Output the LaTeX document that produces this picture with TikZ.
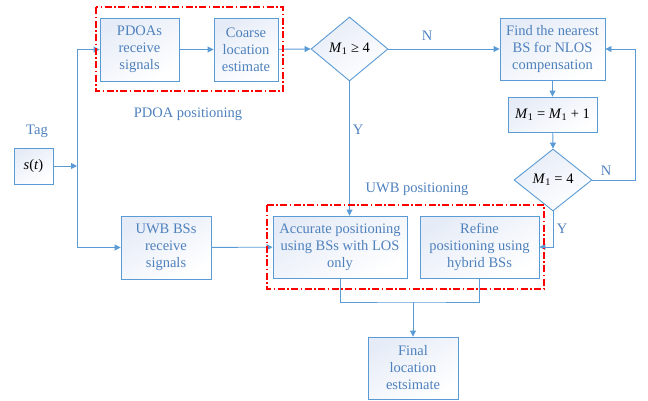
\documentclass[tikz,border=0pt]{standalone}
\usepackage{fontspec}
\setmainfont{Liberation Serif}
\usetikzlibrary{arrows.meta,shapes.geometric,calc}
\definecolor{lineblue}{HTML}{5B9BD5}
\definecolor{textblue}{HTML}{4F81BD}
\definecolor{fillblue}{HTML}{E6ECF7}
\newcommand\Mone{\textit{M}\textsubscript{1}}
\begin{document}
\begin{tikzpicture}[x=1pt,y=-1pt,
  font=\fontsize{14.5}{17}\selectfont,
  boxnode/.style={draw=lineblue,line width=0.9pt,text=textblue,align=center,inner sep=0pt,
     top color=fillblue,bottom color=white,shading angle=30},
  decnode/.style={diamond,draw=lineblue,line width=0.9pt,inner sep=0pt,
     top color=fillblue,bottom color=white,shading angle=30},
  conn/.style={draw=lineblue,line width=0.9pt},
  arr/.style={conn,-{Triangle[length=6pt,width=6pt]}},
  lbl/.style={text=textblue,inner sep=0pt},
  grp/.style={red,line width=1.1pt,line cap=butt,dash pattern=on 7pt off 2.5pt on 1.5pt off 2.5pt}]
\useasboundingbox (0,0) rectangle (648,400);
% nodes
\node[boxnode,minimum width=79pt,minimum height=63pt] (pdoa) at (139.5,49.5) {PDOAs\\receive\\signals};
\node[boxnode,minimum width=64pt,minimum height=63pt] (coarse) at (246,49.5) {Coarse\\location\\estimate};
\node[decnode,minimum width=77pt,minimum height=64pt] (d1) at (349.5,49) {\Mone{} ≥ 4};
\node[boxnode,minimum width=105pt,minimum height=62pt] (find) at (552.5,49) {Find the nearest\\BS for NLOS\\compensation};
\node[boxnode,minimum width=89pt,minimum height=35pt] (inc) at (552.5,114.5) {\color{black}\Mone{} = \Mone{} + 1};
\node[decnode,minimum width=78pt,minimum height=62pt] (d2) at (553,180) {\Mone{} = 4};
\node[lbl] (tag) at (37,131) {Tag};
\node[boxnode,minimum width=39pt,minimum height=36pt] (s) at (33.5,166) {\color{black}\textit{s}(\textit{t})};
\node[boxnode,minimum width=90pt,minimum height=63pt] (uwb) at (166,247.5) {UWB BSs\\receive\\signals};
\node[boxnode,minimum width=134pt,minimum height=62pt] (acc) at (340,247) {Accurate positioning\\using BSs with LOS\\only};
\node[boxnode,minimum width=119pt,minimum height=62pt] (ref) at (479.5,247) {Refine\\positioning using\\hybrid BSs};
\node[boxnode,minimum width=90pt,minimum height=62pt] (fin) at (413,368) {Final\\location\\estsimate};
\node[lbl] (pdoalbl) at (188,114) {PDOA positioning};
\node[lbl] (uwblbl) at (417,189) {UWB positioning};
\node[lbl] (n1) at (427,36) {N};
\node[lbl] (y1) at (358,130) {Y};
\node[lbl] (n2) at (606,171) {N};
\node[lbl] (y2) at (562,229) {Y};
% coordinates
\coordinate (j) at (77,166);
\coordinate (loop) at (635,180);
\coordinate (mrg) at (413,302);
% connectors
\draw[arr] (s.east) -- (j);
\draw[arr] (j) |- (pdoa.west);
\draw[arr] (j) |- (uwb.west);
\draw[arr] (pdoa) -- (coarse);
\draw[arr] (coarse) -- (d1.west);
\draw[arr] (d1.east) -- (find.west);
\draw[arr] (d1.south) -- (d1.south |- acc.north);
\draw[arr] (find) -- (inc);
\draw[arr] (inc) -- (d2.north);
\draw[arr] (d2.east) -- (loop) |- (find.east);
\draw[arr] (d2.south) |- (ref.east);
\draw[arr] (uwb) -- (acc);
\draw[conn] (acc.south) |- (mrg) -| (ref.south);
\draw[arr] (mrg) -- (fin.north);
% groups
\draw[grp] (96,7) rectangle (283,91);
\draw[grp] (267,205) rectangle (544,289);
\end{tikzpicture}
\end{document}
